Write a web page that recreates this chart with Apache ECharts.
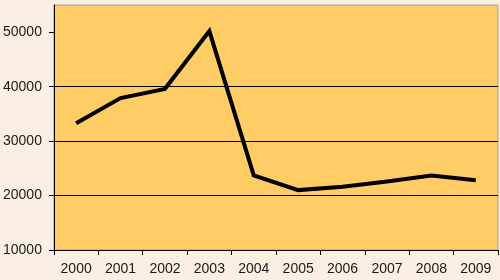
<!DOCTYPE html>
<html>
<head>
<meta charset="utf-8">
<script src="https://cdn.jsdelivr.net/npm/echarts@6/dist/echarts.min.js"></script>
<style>
  html, body { margin: 0; padding: 0; background: #fbefe3; }
  #chart { width: 500px; height: 280px; }
</style>
</head>
<body>
<div id="chart"></div>
<script>
const years = ['2000', '2001', '2002', '2003', '2004', '2005', '2006', '2007', '2008', '2009']
const values = [33300, 37900, 39600, 50200, 23700, 21000, 21600, 22600, 23700, 22800]
const yTicks = [10000, 20000, 30000, 40000, 50000]

const chart = echarts.init(document.getElementById('chart'), null, { renderer: 'canvas' })

const axisText = {
  color: '#1a1a1a',
  fontFamily: 'Liberation Sans, Arial, sans-serif',
  fontSize: 14
}

chart.setOption({
  backgroundColor: '#fbefe3',
  animation: false,
  grid: {
    left: 51,
    top: 5,
    right: 2,
    bottom: 30,
    show: true,
    backgroundColor: '#ffcc66',
    borderColor: '#a0a0a0',
    borderWidth: 1
  },
  xAxis: {
    type: 'category',
    data: years,
    boundaryGap: true,
    axisLine: { lineStyle: { color: '#000', width: 1 } },
    axisTick: { show: true, length: 5, alignWithLabel: false, lineStyle: { color: '#000' } },
    axisLabel: { ...axisText, margin: 12, interval: 0 },
    splitLine: { show: false }
  },
  yAxis: {
    type: 'value',
    min: 10000,
    max: 55000,
    interval: 10000,
    axisLine: { show: true, lineStyle: { color: '#000', width: 1 } },
    axisTick: { show: true, length: 5, customValues: yTicks, lineStyle: { color: '#000' } },
    axisLabel: { ...axisText, margin: 12, customValues: yTicks, formatter: (v) => String(v) },
    splitLine: { show: true, showMinLine: false, showMaxLine: false, lineStyle: { color: '#000', width: 1 } }
  },
  series: [{
    type: 'line',
    data: values,
    showSymbol: false,
    symbol: 'none',
    lineStyle: { color: '#000', width: 4, join: 'miter' }
  }]
})
</script>
</body>
</html>
